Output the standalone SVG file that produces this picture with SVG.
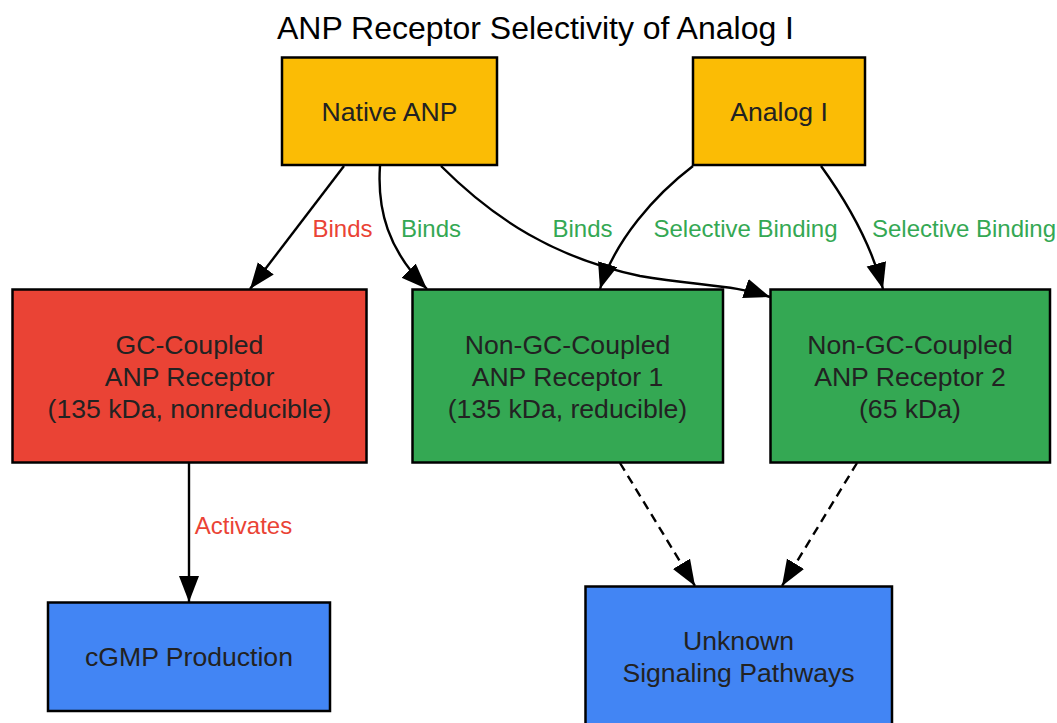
<svg xmlns="http://www.w3.org/2000/svg" width="1057" height="723" viewBox="0 0 1057 723">
<style>
  .box { stroke: #000; stroke-width: 2.5; }
  .yellow { fill: #FBBC05; }
  .red { fill: #EA4335; }
  .green { fill: #34A853; }
  .blue { fill: #4285F4; }
  .nt { font-family: "Liberation Sans", Arial, sans-serif; font-size: 26.6px; fill: #222222; text-anchor: middle; }
  .title { font-family: "Liberation Sans", Arial, sans-serif; font-size: 32px; fill: #000; text-anchor: middle; }
  .lbl { font-family: "Liberation Sans", Arial, sans-serif; font-size: 24px; text-anchor: middle; }
  .lr { fill: #EA4335; }
  .lg { fill: #34A853; }
  .edge { fill: none; stroke: #000; stroke-width: 2.4; marker-end: url(#arrow); }
  .dash { stroke-dasharray: 9 6; }
</style>
<defs>
  <marker id="arrow" markerUnits="userSpaceOnUse" markerWidth="27" markerHeight="21" refX="26" refY="10" orient="auto" viewBox="0 0 27 21">
    <path d="M0,0 L26,10 L0,20 z" fill="#000"/>
  </marker>
</defs>
<rect width="1057" height="723" fill="#fff"/>
<text class="title" x="535.5" y="38.5">ANP Receptor Selectivity of Analog I</text>

<g id="connectors">
  <path class="edge" d="M344,166 L250,289"/>
  <path class="edge" d="M380,166 C377,210 388,250 427,289"/>
  <path class="edge" d="M441,166 C495,220 555,258 640,276 C700,286 735,285 770,297"/>
  <path class="edge" d="M693,166 C655,195 615,240 600,289"/>
  <path class="edge" d="M821,166 C842,195 870,240 883,289"/>
  <path class="edge" d="M189,463 L189,602"/>
  <path class="edge dash" d="M620,463 L695,586"/>
  <path class="edge dash" d="M857,463 L782,586"/>
  <text class="lbl lr" x="342.5" y="237">Binds</text>
  <text class="lbl lg" x="431" y="237">Binds</text>
  <text class="lbl lg" x="582.5" y="237">Binds</text>
  <text class="lbl lg" x="745.5" y="237">Selective Binding</text>
  <text class="lbl lg" x="964" y="237">Selective Binding</text>
  <text class="lbl lr" x="243.5" y="533.5">Activates</text>
</g>

<g id="native-anp">
  <rect class="box yellow" x="282" y="57.5" width="215" height="107.5"/>
  <text class="nt" x="389.5" y="120.5">Native ANP</text>
</g>
<g id="analog-i">
  <rect class="box yellow" x="693" y="57.5" width="172" height="107.5"/>
  <text class="nt" x="779" y="120.5">Analog I</text>
</g>
<g id="gc-receptor">
  <rect class="box red" x="12.5" y="289.5" width="354" height="173"/>
  <text class="nt" x="189.5" y="354">GC-Coupled</text>
  <text class="nt" x="189.5" y="386">ANP Receptor</text>
  <text class="nt" x="189.5" y="418">(135 kDa, nonreducible)</text>
</g>
<g id="nongc-receptor-1">
  <rect class="box green" x="412.5" y="289.5" width="310.5" height="173"/>
  <text class="nt" x="567.5" y="354">Non-GC-Coupled</text>
  <text class="nt" x="567.5" y="386">ANP Receptor 1</text>
  <text class="nt" x="567.5" y="418">(135 kDa, reducible)</text>
</g>
<g id="nongc-receptor-2">
  <rect class="box green" x="770.5" y="289.5" width="279.5" height="173"/>
  <text class="nt" x="910" y="354">Non-GC-Coupled</text>
  <text class="nt" x="910" y="386">ANP Receptor 2</text>
  <text class="nt" x="910" y="418">(65 kDa)</text>
</g>
<g id="cgmp">
  <rect class="box blue" x="48" y="602.5" width="282" height="108.5"/>
  <text class="nt" x="189" y="665.5">cGMP Production</text>
</g>
<g id="unknown">
  <rect class="box blue" x="585.5" y="586.5" width="306.5" height="145"/>
  <text class="nt" x="738.5" y="650">Unknown</text>
  <text class="nt" x="738.5" y="682">Signaling Pathways</text>
</g>
</svg>
